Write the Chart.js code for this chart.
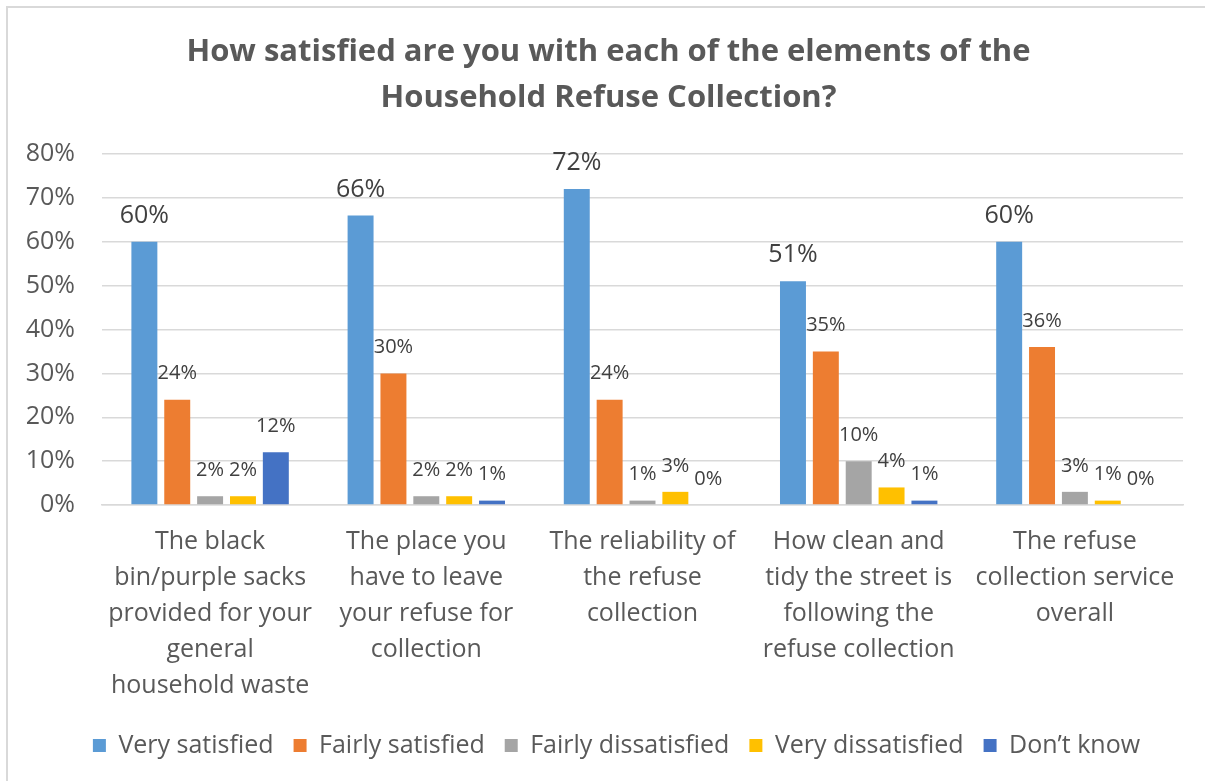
<!DOCTYPE html>
<html>
<head>
<meta charset="utf-8">
<script src="https://cdn.jsdelivr.net/npm/chart.js@4"></script>
<style>
    html, body { margin: 0; background: #fff; overflow: hidden; }
    canvas { display: block; }
</style>
</head>
<body>
<canvas id="chart" width="1205" height="781"></canvas>
<script>
// categories (multi-line labels as in the original)
const categories = [
    ['The black', 'bin/purple sacks', 'provided for your', 'general', 'household waste'],
    ['The place you', 'have to leave', 'your refuse for', 'collection'],
    ['The reliability of', 'the refuse', 'collection'],
    ['How clean and', 'tidy the street is', 'following the', 'refuse collection'],
    ['The refuse', 'collection service', 'overall']
];

const seriesNames = ['Very satisfied', 'Fairly satisfied', 'Fairly dissatisfied', 'Very dissatisfied', 'Don\u2019t know'];
const seriesColors = ['#5b9bd5', '#ed7d31', '#a5a5a5', '#ffc000', '#4472c4'];

const verySatisfied      = [60, 66, 72, 51, 60];
const fairlySatisfied    = [24, 30, 24, 35, 36];
const fairlyDissatisfied = [2, 2, 1, 10, 3];
const veryDissatisfied   = [2, 2, 3, 4, 1];
const dontKnow           = [12, 1, 0, 1, 0];

const yTicks = [0, 10, 20, 30, 40, 50, 60, 70, 80];

const FONT = '"Open Sans", Lato, sans-serif';

// white page + thin frame on the left/top edge
const frame = {
    id: 'frame',
    beforeDraw(chart) {
        const ctx = chart.ctx;
        ctx.save();
        ctx.fillStyle = '#fff';
        ctx.fillRect(0, 0, chart.width, chart.height);
        ctx.strokeStyle = '#d9d9d9';
        ctx.lineWidth = 2;
        ctx.beginPath();
        ctx.moveTo(7, chart.height);
        ctx.lineTo(7, 7);
        ctx.lineTo(chart.width, 7);
        ctx.stroke();
        ctx.restore();
    }
};

// title and legend sit a bit right of the canvas centre in the original
const nudge = {
    id: 'nudge',
    afterLayout(chart) {
        chart.titleBlock.left += 17;
        chart.titleBlock.right += 17;
        chart.legend.left += 25;
        chart.legend.right += 25;
    }
};

// value labels above each bar
const barLabels = {
    id: 'barLabels',
    afterDatasetsDraw(chart) {
        const ctx = chart.ctx;
        ctx.save();
        ctx.fillStyle = '#404040';
        ctx.textAlign = 'center';
        ctx.textBaseline = 'middle';
        chart.data.datasets.forEach((ds, i) => {
            const meta = chart.getDatasetMeta(i);
            ctx.font = (i === 0 ? '25px ' : '20px ') + FONT;
            meta.data.forEach((bar, j) => {
                ctx.fillText(ds.data[j] + '%', bar.x, bar.y - 26);
            });
        });
        ctx.restore();
    }
};

const sets = [verySatisfied, fairlySatisfied, fairlyDissatisfied, veryDissatisfied, dontKnow];

new Chart(document.getElementById('chart'), {
    type: 'bar',
    data: {
        labels: categories,
        datasets: sets.map((d, i) => ({
            label: seriesNames[i],
            data: d,
            backgroundColor: seriesColors[i],
            categoryPercentage: 0.76,
            barPercentage: 0.79
        }))
    },
    options: {
        responsive: false,
        animation: false,
        layout: { padding: { left: 0, right: 22, top: 0, bottom: 13 } },
        plugins: {
            title: {
                display: true,
                text: ['How satisfied are you with each of the elements of the', 'Household Refuse Collection?'],
                color: '#595959',
                font: { family: FONT, size: 31, weight: 'bold', lineHeight: 1.484 },
                padding: { top: 29, bottom: 33 }
            },
            legend: {
                position: 'bottom',
                labels: {
                    color: '#595959',
                    font: { family: FONT, size: 25 },
                    boxWidth: 13,
                    boxHeight: 13,
                    padding: 20
                }
            },
            tooltip: { enabled: false }
        },
        scales: {
            x: {
                afterFit(scale) { scale.height = 208; },
                grid: { display: false },
                border: { color: '#d9d9d9', width: 1.5 },
                ticks: {
                    color: '#595959',
                    font: { family: FONT, size: 25, lineHeight: 1.44 },
                    padding: 11,
                    maxRotation: 0,
                    autoSkip: false
                }
            },
            y: {
                min: 0,
                max: 80,
                afterFit(scale) { scale.width = 102; },
                afterBuildTicks(scale) { scale.ticks = yTicks.map(v => ({ value: v })); },
                grid: { color: '#d9d9d9', lineWidth: 1.5, drawTicks: false },
                border: { display: false },
                ticks: {
                    color: '#595959',
                    font: { family: FONT, size: 25 },
                    padding: 27,
                    callback: v => v + '%'
                }
            }
        }
    },
    plugins: [frame, nudge, barLabels]
});
</script>
</body>
</html>
